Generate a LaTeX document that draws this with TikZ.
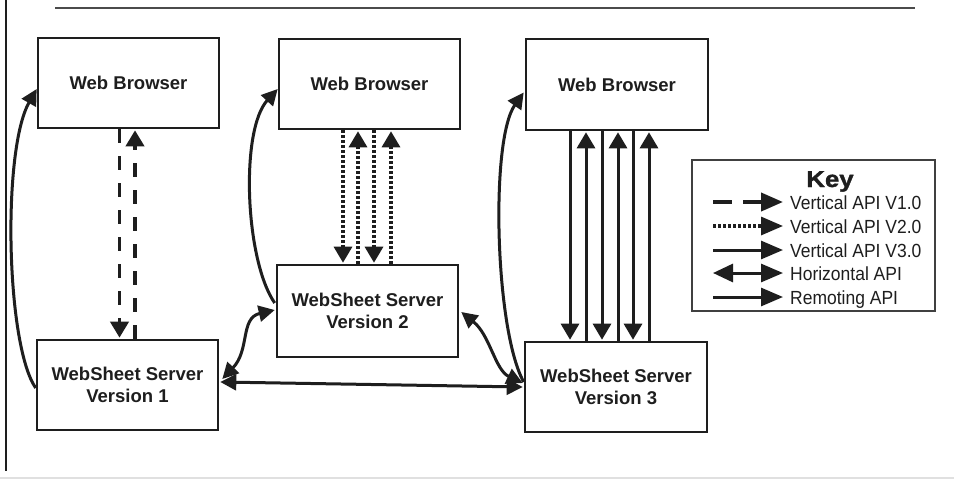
\documentclass[tikz,border=0pt]{standalone}
\usepackage{fontspec}
\setmainfont{Liberation Sans}
\newfontfamily\keyfont[FakeStretch=1.12,FakeBold=1.5]{Liberation Sans Bold}
\newfontfamily\keylab[FakeStretch=0.92]{Liberation Sans}
\usetikzlibrary{arrows.meta,calc}
\definecolor{ink}{HTML}{1E1E1E}
\begin{document}
\begin{tikzpicture}[x=1pt,y=-1pt,
  box/.style={draw=ink, line width=2.6pt, minimum width=181pt, minimum height=90pt,
    inner sep=0pt, align=center, text=ink, font=\bfseries\fontsize{18.5}{22}\selectfont},
  vtip/.style={-{Triangle[length=16pt,width=18pt]}},
  v1/.style={draw=ink, line width=3.8pt, vtip, dash pattern=on 14pt off 13pt, shorten >=1pt},
  v2/.style={draw=ink, line width=3.2pt, vtip, dash pattern=on 2.6pt off 2.4pt, shorten >=1pt},
  v3/.style={draw=ink, line width=3pt, vtip, shorten >=1pt},
  rem/.style={draw=ink, line width=3pt, -{Triangle[length=16pt,width=16pt]}},
  hor/.style={draw=ink, line width=3pt, {Triangle[length=16pt,width=16pt]}-{Triangle[length=16pt,width=16pt]}},
  ktip/.style={-{Triangle[length=22pt,width=18pt]}},
  klabel/.style={anchor=base west, inner sep=0pt, text=ink, font=\keylab\fontsize{19}{20}\selectfont},
]
\useasboundingbox (0,0) rectangle (954,485);
\fill[white] (0,0) rectangle (954,485);

% frame lines
\coordinate (tl) at (55,8);
\coordinate (tr) at (915,8);
\draw[ink!80, line width=2pt] (tl) -- (tr);
\coordinate (lt) at (6,0);
\coordinate (lb) at (6,471);
\draw[ink, line width=2pt] (lt) -- (lb);
\coordinate (bl) at (0,478);
\coordinate (br) at (954,478);
\draw[black!12, line width=1.5pt] (bl) -- (br);

% boxes
\node[box] (wb1) at (128.5,83) {Web Browser};
\node[box] (wb2) at (369.5,84) {Web Browser};
\node[box, minimum width=182pt, minimum height=91pt] (wb3) at (617,84.5) {Web Browser};
\node[box] (ws1) at (127.5,385) {WebSheet Server\\Version 1};
\node[box, minimum height=92pt] (ws2) at (367.5,311) {WebSheet Server\\Version 2};
\node[box, minimum width=182pt] (ws3) at (616,387) {WebSheet Server\\Version 3};

% vertical API V1.0
\coordinate (a1) at ($(wb1.south)+(-9,0)$);
\draw[v1] (a1) -- (a1 |- ws1.north);
\coordinate (b1) at ($(ws1.north)+(7.5,0)$);
\draw[v1] (b1) -- (b1 |- wb1.south);

% vertical API V2.0
\foreach \dx in {-26.5,4.5}{
  \coordinate (a2) at ($(wb2.south)+(\dx,0)$);
  \draw[v2] (a2) -- (a2 |- ws2.north);
}
\foreach \dx in {-9.5,23.5}{
  \coordinate (b2) at ($(ws2.north)+(\dx,0)$);
  \draw[v2] (b2) -- (b2 |- wb2.south);
}

% vertical API V3.0
\foreach \dx in {-47,-15,16}{
  \coordinate (a3) at ($(wb3.south)+(\dx,0)$);
  \draw[v3] (a3) -- (a3 |- ws3.north);
}
\foreach \dx in {-30,2,33}{
  \coordinate (b3) at ($(ws3.north)+(\dx,0)$);
  \draw[v3] (b3) -- (b3 |- wb3.south);
}

% remoting API
\draw[rem] ($(ws1.west)+(0,3)$) .. controls (6,345) and (2,150) .. ($(wb1.west)+(0,6)$);
\draw[rem] ($(ws2.west)+(-1,-8)$) .. controls (245,260) and (240,130) .. ($(wb2.west)+(0,5)$);
\draw[rem] ($(ws3.west)+(0,-5)$) .. controls (495,330) and (490,140) .. ($(wb3.west)+(-1,8)$);

% horizontal API
\draw[hor] ($(ws1.east)+(1,-3)$) -- ($(ws3.west)+(-1,0)$);
\draw[hor] ($(ws1.east)+(3,-6)$) .. controls (250,350) and (240,318) .. ($(ws2.west)+(-1,-1)$);
\draw[hor] ($(ws2.east)+(2,1)$) .. controls (490,335) and (495,370) .. ($(ws3.west)+(-1,-4)$);

% key
\node[draw=ink!85, line width=2pt, minimum width=243pt, minimum height=151pt, inner sep=0pt] (key) at (813,235.5) {};
\node[inner sep=0pt, anchor=base, text=ink, font=\keyfont\fontsize{23}{23}\selectfont] (ktitle) at (830,187) {Key};

\coordinate (k1a) at (713,202); \coordinate (k1b) at (783,202);
\draw[draw=ink, line width=4pt, ktip, dash pattern=on 19pt off 11pt] (k1a) -- (k1b);
\node[klabel] (k1) at (790,209.5) {Vertical API V1.0};

\coordinate (k2a) at (713,226); \coordinate (k2b) at (783,226);
\draw[draw=ink, line width=3.2pt, ktip, dash pattern=on 2.6pt off 2.4pt] (k2a) -- (k2b);
\node[klabel] (k2) at (790,233.5) {Vertical API V2.0};

\coordinate (k3a) at (713,250); \coordinate (k3b) at (783,250);
\draw[draw=ink, line width=3pt, ktip] (k3a) -- (k3b);
\node[klabel] (k3) at (790,257.5) {Vertical API V3.0};

\coordinate (k4a) at (713,273); \coordinate (k4b) at (783,273);
\draw[draw=ink, line width=3pt, {Triangle[length=20pt,width=18pt]}-{Triangle[length=22pt,width=18pt]}] (k4a) -- (k4b);
\node[klabel] (k4) at (790,280.5) {Horizontal API};

\coordinate (k5a) at (713,297); \coordinate (k5b) at (783,297);
\draw[draw=ink, line width=3pt, ktip] (k5a) -- (k5b);
\node[klabel] (k5) at (790,304.5) {Remoting API};
\end{tikzpicture}
\end{document}
